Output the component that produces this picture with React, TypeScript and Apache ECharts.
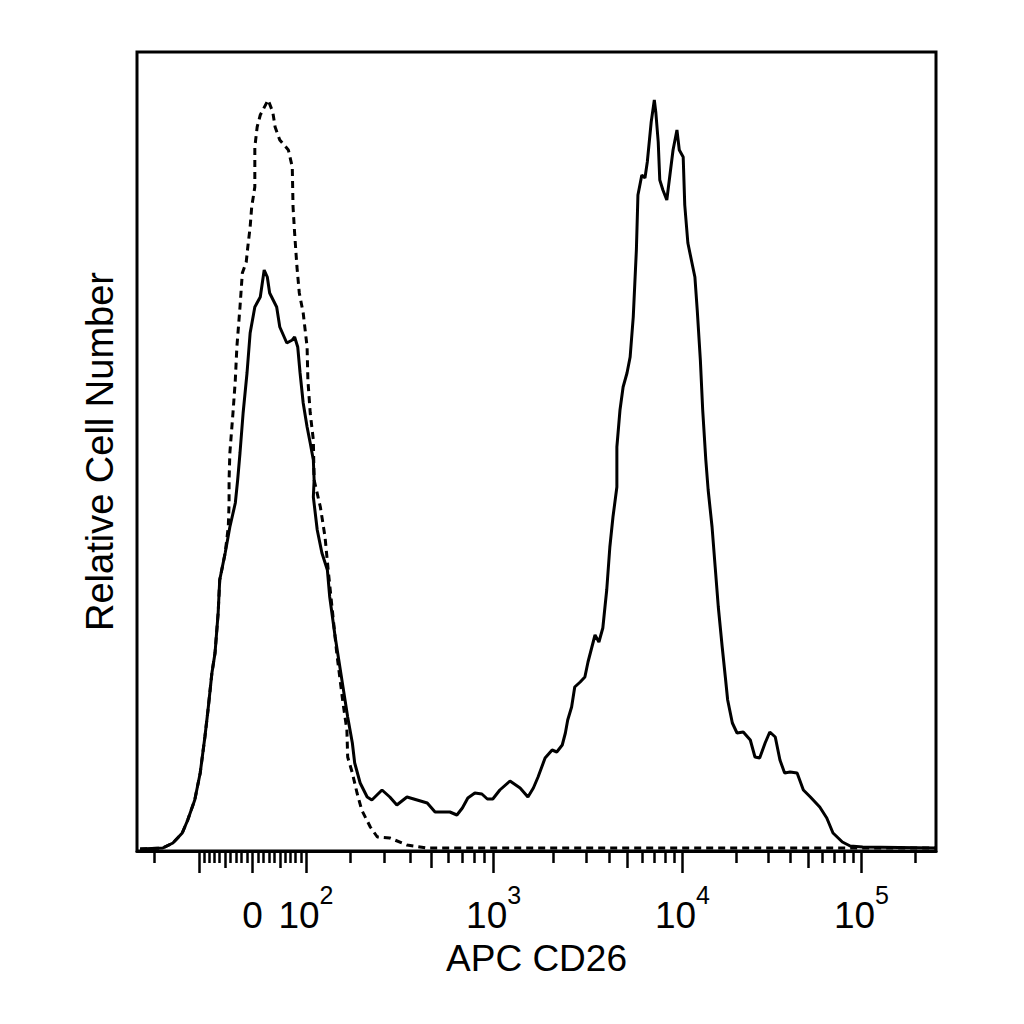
import React, { useEffect, useRef } from "react";
import * as echarts from "echarts";

// biexponential (logicle) display, FlowJo style
const TOP = 262144;
const DECADES = 4.5;
const LINEAR_WIDTH = 0.65;
const CHANNELS = 1024;

// axis ticks, in fluorescence units
const majorTicks = [-100, 0, 100, 1000, 10000, 100000];
const midTicks = [-50, 50, 500, 5000, 50000];
const minorTicks = [
  -200, -90, -80, -70, -60, -40, -30, -20, -10, 10, 20, 30, 40, 60, 70, 80, 90,
  200, 300, 400, 600, 700, 800, 900, 2000, 3000, 4000, 6000, 7000, 8000, 9000,
  20000, 30000, 40000, 60000, 70000, 80000, 90000, 200000,
];
const labelValues = [0, 100, 1000, 10000, 100000];
const labelTexts = ["{b|0}", "{b|10}{s|2}", "{b|10}{s|3}", "{b|10}{s|4}", "{b|10}{s|5}"];

// histograms: [display channel, cell count]
const cd26Stained: [number, number][] = [
  [4, 2], [33, 3], [46, 8], [58, 18], [65, 31], [74, 51], [81, 78], [87, 114],
  [91, 141], [96, 178], [100, 198], [104, 238], [106, 271], [113, 298], [119, 324],
  [126, 348], [129, 371], [132, 398], [136, 438], [141, 478], [145, 518], [151, 544],
  [158, 554], [163, 581], [167, 574], [170, 558], [179, 544], [183, 524], [192, 508],
  [199, 511], [202, 514], [206, 504], [209, 478], [213, 448], [218, 424], [222, 408],
  [226, 391], [227, 371], [226, 354], [231, 321], [237, 298], [244, 281], [247, 254],
  [254, 214], [258, 194], [264, 164], [270, 134], [276, 108], [279, 88], [286, 68],
  [295, 54], [301, 51], [314, 61], [324, 54], [333, 46], [346, 54], [359, 51],
  [372, 48], [382, 39], [401, 39], [410, 36], [417, 43], [424, 53], [433, 58],
  [442, 57], [449, 52], [456, 52], [465, 61], [478, 70], [491, 63], [501, 54],
  [508, 63], [514, 74], [523, 93], [532, 101], [538, 99], [545, 106], [549, 118],
  [552, 131], [557, 144], [561, 164], [568, 169], [574, 174], [578, 189], [583, 204],
  [587, 216], [592, 209], [597, 223], [600, 246], [602, 261], [606, 304], [610, 334],
  [615, 364], [615, 404], [619, 441], [623, 464], [628, 478], [632, 494], [636, 534],
  [640, 601], [642, 656], [647, 676], [651, 673], [654, 689], [659, 729], [663, 751],
  [665, 738], [668, 709], [670, 671], [674, 661], [679, 651], [683, 676], [687, 701],
  [692, 721], [695, 701], [700, 694], [702, 646], [706, 608], [711, 589], [715, 574],
  [718, 541], [722, 491], [725, 441], [729, 391], [732, 361], [737, 324], [741, 284],
  [745, 244], [750, 204], [754, 174], [757, 151], [763, 128], [769, 118], [777, 119],
  [786, 111], [792, 94], [798, 93], [805, 108], [811, 119], [818, 114], [824, 91],
  [830, 78], [837, 79], [846, 78], [854, 61], [863, 54], [875, 44], [884, 33],
  [892, 18], [904, 9], [914, 5], [930, 4], [1023, 3],
];

const isotypeControl: [number, number][] = [
  [4, 2], [33, 3], [46, 8], [58, 18], [65, 31], [74, 51], [81, 78], [87, 114],
  [91, 141], [96, 178], [100, 198], [104, 238], [106, 271], [113, 298], [117, 324],
  [118, 348], [118, 371], [119, 398], [123, 438], [126, 471], [128, 504], [132, 544],
  [135, 578], [140, 589], [142, 604], [145, 624], [147, 644], [151, 664], [151, 704],
  [154, 724], [158, 736], [168, 751], [174, 739], [177, 724], [183, 711], [194, 701],
  [199, 684], [200, 644], [202, 618], [205, 584], [208, 558], [213, 538], [218, 504],
  [219, 471], [222, 438], [226, 411], [227, 371], [235, 344], [241, 314], [245, 281],
  [256, 198], [264, 148], [269, 121], [270, 94], [276, 78], [282, 58], [288, 41],
  [299, 24], [308, 14], [324, 13], [346, 6], [372, 3], [1023, 3],
];

const solveP = (w: number) => {
  let lo = 1.000001;
  let hi = 100;
  for (let i = 0; i < 100; i++) {
    const mid = (lo + hi) / 2;
    if ((2 * mid * Math.log10(mid)) / (mid + 1) > w) hi = mid;
    else lo = mid;
  }
  return (lo + hi) / 2;
};
const P = solveP(LINEAR_WIDTH);
const SCALE = TOP * Math.pow(10, -(DECADES - LINEAR_WIDTH));

const biexValue = (x: number): number => {
  const d = x - LINEAR_WIDTH;
  if (d < 0) return -biexValue(2 * LINEAR_WIDTH - x);
  return SCALE * (Math.pow(10, d) - P * P * Math.pow(10, -d / P) + P * P - 1);
};

const toChannel = (v: number) => {
  let lo = -2;
  let hi = DECADES + 1;
  for (let i = 0; i < 80; i++) {
    const mid = (lo + hi) / 2;
    if (biexValue(mid) > v) hi = mid;
    else lo = mid;
  }
  return (((lo + hi) / 2) / DECADES) * CHANNELS;
};

const FONT = "Liberation Sans, Arial, sans-serif";
const gridBox = { left: 137, top: 52, width: 799, height: 799 };

const tickAxis = (gridIndex: number, values: number[], length: number) => ({
  type: "value",
  gridIndex,
  min: 0,
  max: CHANNELS,
  axisLine: { show: false },
  axisLabel: { show: false },
  splitLine: { show: false },
  axisTick: {
    show: true,
    length,
    customValues: values.map(toChannel),
    lineStyle: { color: "#000", width: 2.5 },
  },
});

const hiddenY = (gridIndex: number) => ({
  type: "value",
  gridIndex,
  min: 0,
  max: 799,
  show: false,
});

const App: React.FC = () => {
  const chartRef = useRef<HTMLDivElement>(null);

  useEffect(() => {
    if (!chartRef.current) return;
    const chart = echarts.init(chartRef.current, null, { renderer: "svg" });
    const labelChannels = labelValues.map(toChannel);

    chart.setOption({
      animation: false,
      backgroundColor: "#fff",
      grid: [
        { ...gridBox, show: true, borderColor: "#000", borderWidth: 3 },
        { ...gridBox },
        { ...gridBox },
      ],
      xAxis: [
        {
          ...tickAxis(0, majorTicks, 22),
          axisLine: { show: true, onZero: false, lineStyle: { color: "#000", width: 3 } },
          name: "APC CD26",
          nameLocation: "middle",
          nameGap: 86,
          nameTextStyle: { fontSize: 37, color: "#000", fontFamily: FONT },
          axisLabel: {
            show: true,
            customValues: labelChannels,
            margin: 44,
            color: "#000",
            fontFamily: FONT,
            formatter: (val: number) => {
              let best = 0;
              labelChannels.forEach((c, i) => {
                if (Math.abs(c - val) < Math.abs(labelChannels[best] - val)) best = i;
              });
              return labelTexts[best];
            },
            rich: {
              b: { fontSize: 37, lineHeight: 40, color: "#000", fontFamily: FONT },
              s: {
                fontSize: 25,
                lineHeight: 12,
                padding: [0, 0, 28, 0],
                verticalAlign: "bottom",
                color: "#000",
                fontFamily: FONT,
              },
            },
          },
        },
        tickAxis(1, midTicks, 17),
        tickAxis(2, minorTicks, 12),
      ],
      yAxis: [
        {
          type: "value",
          gridIndex: 0,
          min: 0,
          max: 799,
          name: "Relative Cell Number",
          nameLocation: "middle",
          nameGap: 18,
          nameTextStyle: { fontSize: 38, color: "#000", fontFamily: FONT },
          axisLine: { show: false },
          axisTick: { show: false },
          axisLabel: { show: false },
          splitLine: { show: false },
        },
        hiddenY(1),
        hiddenY(2),
      ],
      series: [
        {
          name: "Isotype control",
          type: "line",
          xAxisIndex: 0,
          yAxisIndex: 0,
          data: isotypeControl,
          symbol: "none",
          lineStyle: { color: "#000", width: 3, type: [7, 5] },
        },
        {
          name: "CD26",
          type: "line",
          xAxisIndex: 0,
          yAxisIndex: 0,
          data: cd26Stained,
          symbol: "none",
          lineStyle: { color: "#000", width: 3 },
        },
      ],
    });

    return () => {
      chart.dispose();
    };
  }, []);

  return (
    <div
      ref={chartRef}
      style={{
        position: "fixed",
        left: 0,
        top: 0,
        width: "1024px",
        height: "1024px",
        background: "#fff",
      }}
    />
  );
};

export default App;
